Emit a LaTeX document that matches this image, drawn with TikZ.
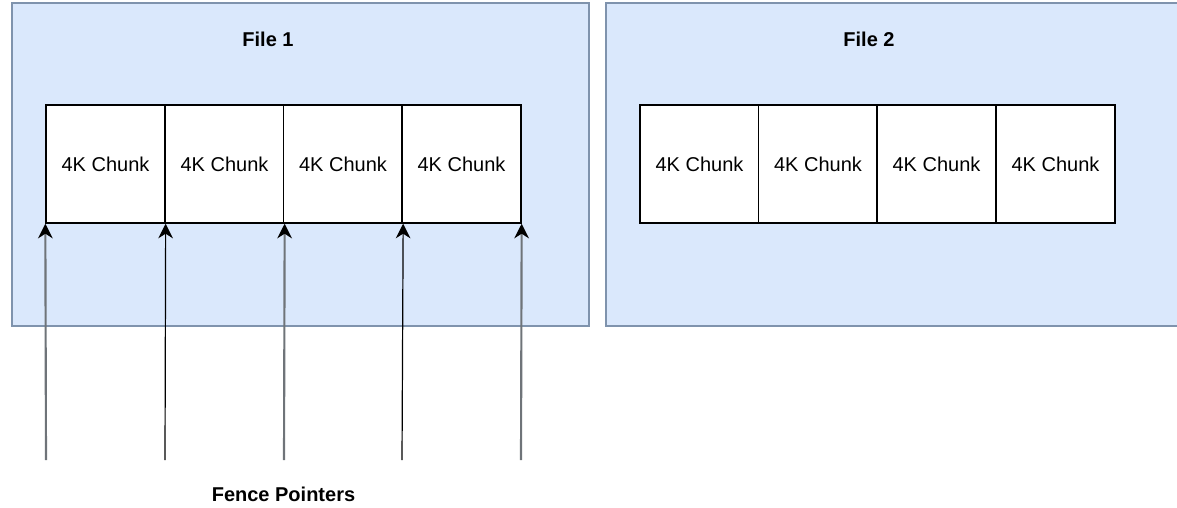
\documentclass[tikz,border=0pt]{standalone}
\usepackage{fontspec}
\setmainfont{Liberation Sans}
\usetikzlibrary{arrows.meta}
\definecolor{fileFill}{HTML}{DAE8FC}
\definecolor{fileLine}{HTML}{7F93AD}
\definecolor{ptrGray}{HTML}{6F7479}
\tikzset{
  filebox/.style={draw=fileLine, fill=fileFill, line width=1pt, inner sep=0pt},
  chunk/.style={draw=black, fill=white, line width=1pt, minimum width=89.25pt,
    minimum height=88.5pt, inner sep=0pt, font=\fontsize{15}{18}\selectfont},
  title/.style={font=\bfseries\fontsize{15}{18}\selectfont},
  tip/.style={-{Stealth[length=11pt, width=11pt, inset=3.5pt, color=black]}},
  ptr/.style={draw=black, line width=0.9pt, tip},
  ptrgray/.style={draw=ptrGray, line width=1.6pt, tip}
}
\begin{document}
\begin{tikzpicture}[x=0.75pt, y=-0.75pt]
\useasboundingbox (0,0) rectangle (1177,507);

% file containers
\node[filebox, minimum width=432.75pt, minimum height=242.25pt] (file1) at (300.5,164.5) {};
\node[filebox, minimum width=430.5pt, minimum height=242.25pt] (file2) at (893,164.5) {};
\node[title] (t1) at (268,39) {File 1};
\node[title] (t2) at (869,39) {File 2};

% chunks of file 1
\node[chunk] (a1) at (105.5,164) {4K Chunk};
\node[chunk] (a2) at (224.5,164) {4K Chunk};
\node[chunk] (a3) at (343,164) {4K Chunk};
\node[chunk] (a4) at (461.5,164) {4K Chunk};

% chunks of file 2
\node[chunk] (b1) at (699.5,164) {4K Chunk};
\node[chunk] (b2) at (818,164) {4K Chunk};
\node[chunk] (b3) at (936.5,164) {4K Chunk};
\node[chunk] (b4) at (1055.5,164) {4K Chunk};

% fence pointers at the chunk boundaries
\coordinate (p0) at (46,460);
\coordinate (p1) at (165,460);
\coordinate (p2) at (284,460);
\coordinate (p3) at (402,460);
\coordinate (p4) at (521,460);
\draw[ptrgray] (p0) -- (a1.south west);
\draw[ptr] (p1) -- (a1.south east);
\draw[ptrgray] (p2) -- (a2.south east);
\draw[ptr] (p3) -- (a3.south east);
\draw[ptrgray] (p4) -- (a4.south east);

\node[title] (fp) at (283.5,494) {Fence Pointers};
\end{tikzpicture}
\end{document}
